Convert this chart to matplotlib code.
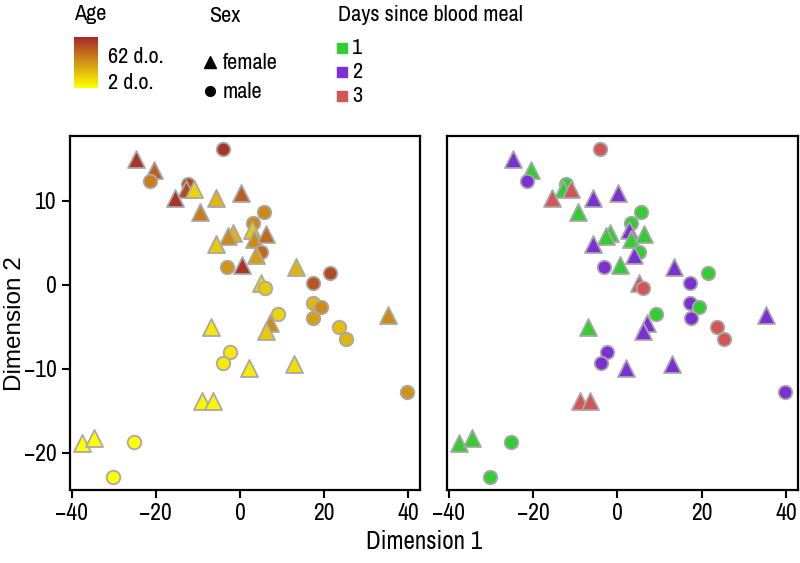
import numpy as np
import matplotlib
matplotlib.use("Agg")
import matplotlib.pyplot as plt
from matplotlib.colors import LinearSegmentedColormap
from matplotlib import font_manager

# the reference text looks horizontally squeezed; use a narrow face if there is one
narrow = None
for f in font_manager.fontManager.ttflist:
    if 'Narrow' in f.name or 'Condensed' in f.name:
        narrow = f.name
        break
if narrow:
    plt.rcParams['font.family'] = [narrow, 'DejaVu Sans']
    k = 1.0
else:
    plt.rcParams['font.family'] = ['Liberation Sans', 'DejaVu Sans']
    k = 0.82

# data (MDS coordinates)
dim1 = [-24.8, -20.5, -21.4, -4.1, -12.3, -12.9, -11.0, -15.5, -5.8, 0.2,
        -9.4, 5.6, -1.7, -2.8, -5.7, 3.2, 2.8, 3.3, 6.2, 5.1,
        3.8, -3.1, 0.6, 5.0, 6.0, 13.4, 21.4, 17.3, 17.3, 19.2,
        17.4, 9.1, 7.1, 6.1, -6.9, 23.6, 25.2, 35.3, -2.4, -4.0,
        2.1, 12.8, 39.7, -9.0, -6.4, -37.5, -34.6, -25.2, -30.2]
dim2 = [15.0, 13.7, 12.3, 16.1, 12.0, 11.4, 11.4, 10.3, 10.3, 10.9,
        8.6, 8.7, 6.2, 5.75, 4.9, 7.3, 6.5, 5.5, 6.0, 3.9,
        3.6, 2.1, 2.3, 0.2, -0.4, 2.1, 1.4, 0.2, -2.2, -2.6,
        -4.0, -3.5, -4.6, -5.5, -5.0, -5.0, -6.5, -3.6, -8.0, -9.3,
        -9.9, -9.4, -12.8, -13.8, -13.8, -18.8, -18.2, -18.7, -22.9]
sex = ['F', 'F', 'M', 'M', 'M', 'F', 'F', 'F', 'F', 'F',
       'F', 'M', 'F', 'F', 'F', 'M', 'F', 'F', 'F', 'M',
       'F', 'M', 'F', 'F', 'M', 'F', 'M', 'M', 'M', 'M',
       'M', 'M', 'F', 'F', 'F', 'M', 'M', 'F', 'M', 'M',
       'F', 'F', 'M', 'F', 'F', 'F', 'F', 'M', 'M']
age = [59, 47, 38, 59, 53, 53, 14, 59, 23, 47,
       38, 35, 23, 35, 17, 35, 17, 35, 44, 44,
       29, 32, 59, 14, 17, 23, 53, 50, 23, 35,
       29, 14, 35, 17, 8, 20, 23, 35, 8, 8,
       8, 11, 32, 5, 5, 2, 2, 2, 2]
days = [2, 1, 2, 3, 1, 1, 3, 3, 2, 2,
        1, 1, 1, 1, 2, 1, 2, 1, 1, 1,
        2, 2, 1, 3, 3, 2, 1, 2, 2, 1,
        2, 1, 2, 2, 1, 3, 3, 2, 2, 2,
        2, 2, 2, 3, 3, 1, 1, 1, 1]

age_cmap = LinearSegmentedColormap.from_list("age", ["#FFFF00", "#A52A2A"])
day_colors = {1: "#33CC33", 2: "#7B2FD4", 3: "#D45555"}
markers = {'F': '^', 'M': 'o'}
sizes = {'F': 150, 'M': 95}

fig = plt.figure(figsize=(8, 5.63), dpi=100)
ax1 = fig.add_axes([0.0875, 0.1297, 0.4375, 0.6288])
ax2 = fig.add_axes([0.5588, 0.1297, 0.4388, 0.6288])

x = np.array(dim1)
y = np.array(dim2)
a = (np.array(age) - 2) / 60.0
for i in range(len(x)):
    ax1.scatter(x[i], y[i], marker=markers[sex[i]], s=sizes[sex[i]],
                color=age_cmap(a[i]), edgecolor="#A8A8A8", linewidth=1.3, zorder=3)
    ax2.scatter(x[i], y[i], marker=markers[sex[i]], s=sizes[sex[i]],
                color=day_colors[days[i]], edgecolor="#A8A8A8", linewidth=1.3, zorder=3)

for ax in (ax1, ax2):
    ax.set_xlim(-40.4, 42.8)
    ax.set_ylim(-24.4, 17.7)
    ax.set_xticks([-40, -20, 0, 20, 40])
    ax.set_yticks([-20, -10, 0, 10])
    for sp in ax.spines.values():
        sp.set_linewidth(1.6)
    ax.tick_params(direction='out', length=6, width=1.5, labelsize=17 * k)

ax2.tick_params(axis='y', left=False, labelleft=False)
# vertical text is not squeezed, so it keeps the regular face
ax1.set_ylabel("Dimension 2", fontsize=17.5, family=['Liberation Sans', 'DejaVu Sans'])
ax1.yaxis.set_label_coords(-0.125, 0.47)
fig.text(0.53, 0.018, "Dimension 1", fontsize=18 * k, ha='center', va='bottom')

# Age legend (colour bar)
cax = fig.add_axes([0.0925, 1 - 88 / 563, 0.029, 51 / 563])
grad = np.linspace(0, 1, 100).reshape(-1, 1)
cax.imshow(grad, aspect='auto', cmap=age_cmap, origin='lower')
cax.set_axis_off()
fs = 16 * k
fig.text(0.0925, 1 - 14 / 563, "Age", fontsize=fs, va='center')
fig.text(0.135, 1 - 57 / 563, "62 d.o.", fontsize=fs, va='center')
fig.text(0.135, 1 - 83 / 563, "2 d.o.", fontsize=fs, va='center')

# Sex legend
fig.text(0.262, 1 - 16 / 563, "Sex", fontsize=fs, va='center')
fig.lines.append(plt.Line2D([0.262], [1 - 62 / 563], marker='^', color='black',
                            markersize=9, transform=fig.transFigure, linestyle='none'))
fig.lines.append(plt.Line2D([0.262], [1 - 91 / 563], marker='o', color='black',
                            markersize=7, transform=fig.transFigure, linestyle='none'))
fig.text(0.278, 1 - 63 / 563, "female", fontsize=fs, va='center')
fig.text(0.278, 1 - 92 / 563, "male", fontsize=fs, va='center')

# Days legend
fig.text(0.423, 1 - 15 / 563, "Days since blood meal", fontsize=fs, va='center')
for j, d in enumerate([1, 2, 3]):
    yy = 1 - (48 + 24 * j) / 563
    fig.lines.append(plt.Line2D([0.428], [yy], marker='s', color=day_colors[d],
                                markersize=7, transform=fig.transFigure, linestyle='none'))
    fig.text(0.44, yy, str(d), fontsize=fs, va='center')

plt.savefig("out.png", dpi=100)
